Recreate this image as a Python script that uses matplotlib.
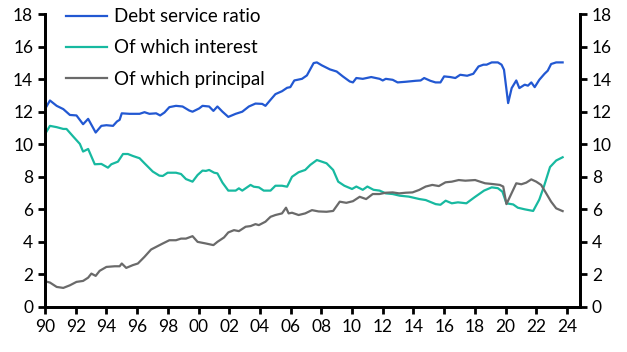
import matplotlib.pyplot as plt

# decimal years and values
dsr_years = [1990.0, 1990.32, 1990.76, 1991.19, 1991.62, 1992.05, 1992.48, 1992.81, 1993.3, 1993.67,
             1994.0, 1994.43, 1994.69, 1994.86, 1995.0, 1995.5, 1996.16, 1996.48, 1996.8, 1997.24,
             1997.5, 1997.78, 1998.1, 1998.53, 1998.96, 1999.4, 1999.61, 2000.04, 2000.26, 2000.69,
             2000.97, 2001.23, 2001.56, 2001.94, 2002.42, 2002.85, 2003.28, 2003.71, 2004.15, 2004.36,
             2004.69, 2005.01, 2005.44, 2005.77, 2005.98, 2006.24, 2006.74, 2007.06, 2007.5, 2007.71,
             2008.03, 2008.56, 2009.0, 2009.4, 2009.85, 2010.06, 2010.28, 2010.7, 2011.25, 2011.8,
             2012.0, 2012.2, 2012.65, 2012.97, 2013.5, 2014.15, 2014.47, 2014.7, 2015.1, 2015.44,
             2015.76, 2016.0, 2016.4, 2016.73, 2017.05, 2017.5, 2017.9, 2018.24, 2018.56, 2018.77,
             2019.1, 2019.5, 2019.74, 2019.9, 2020.17, 2020.4, 2020.7, 2020.9, 2021.25, 2021.46,
             2021.68, 2021.9, 2022.2, 2022.54, 2022.75, 2022.97, 2023.3, 2023.72]
dsr_vals = [12.16, 12.69, 12.36, 12.16, 11.8, 11.77, 11.23, 11.56, 10.72, 11.13,
            11.17, 11.13, 11.4, 11.5, 11.9, 11.87, 11.87, 11.97, 11.87, 11.9,
            11.77, 11.95, 12.28, 12.36, 12.32, 12.07, 12.0, 12.2, 12.36, 12.32,
            12.05, 12.32, 12.0, 11.68, 11.87, 12.0, 12.32, 12.5, 12.48, 12.36,
            12.73, 13.08, 13.26, 13.47, 13.51, 13.92, 14.02, 14.23, 14.99, 15.03,
            14.85, 14.6, 14.47, 14.17, 13.86, 13.8, 14.07, 14.02, 14.13, 14.02,
            13.92, 14.02, 13.96, 13.8, 13.84, 13.9, 13.92, 14.07, 13.9, 13.8,
            13.8, 14.17, 14.13, 14.07, 14.27, 14.21, 14.33, 14.78, 14.89, 14.89,
            15.03, 15.03, 14.89, 14.58, 12.53, 13.45, 13.92, 13.45, 13.66, 13.6,
            13.8, 13.51, 13.96, 14.33, 14.52, 14.93, 15.03, 15.03]

int_years = [1990.0, 1990.32, 1990.76, 1991.19, 1991.4, 1991.84, 1992.27, 1992.48, 1992.81, 1993.24,
             1993.67, 1994.1, 1994.32, 1994.75, 1995.08, 1995.4, 1995.72, 1996.16, 1996.48, 1997.02,
             1997.45, 1997.67, 1997.99, 1998.53, 1998.86, 1999.18, 1999.61, 1999.94, 2000.26, 2000.48,
             2000.69, 2001.02, 2001.23, 2001.56, 2001.94, 2002.42, 2002.63, 2002.85, 2003.39, 2003.6,
             2003.93, 2004.25, 2004.69, 2005.01, 2005.44, 2005.77, 2006.09, 2006.52, 2006.95, 2007.28,
             2007.71, 2008.03, 2008.34, 2008.77, 2009.1, 2009.5, 2010.0, 2010.28, 2010.7, 2011.0,
             2011.4, 2011.8, 2012.2, 2012.65, 2013.1, 2013.7, 2014.4, 2014.8, 2015.45, 2015.76,
             2016.1, 2016.5, 2016.9, 2017.45, 2017.98, 2018.6, 2019.1, 2019.5, 2019.8, 2020.06,
             2020.5, 2020.8, 2021.25, 2021.8, 2022.2, 2022.5, 2022.9, 2023.3, 2023.72]
int_vals = [10.62, 11.13, 11.05, 10.94, 10.94, 10.47, 10.02, 9.55, 9.71, 8.77,
            8.79, 8.56, 8.77, 8.93, 9.4, 9.4, 9.28, 9.14, 8.83, 8.32,
            8.07, 8.05, 8.25, 8.25, 8.17, 7.86, 7.7, 8.11, 8.38, 8.36,
            8.42, 8.25, 8.21, 7.64, 7.15, 7.15, 7.29, 7.15, 7.5, 7.39,
            7.35, 7.15, 7.15, 7.45, 7.45, 7.39, 8.0, 8.28, 8.42, 8.73,
            9.03, 8.93, 8.83, 8.42, 7.7, 7.45, 7.25, 7.4, 7.2, 7.4,
            7.2, 7.15, 6.98, 6.94, 6.84, 6.78, 6.63, 6.57, 6.32, 6.28,
            6.53, 6.37, 6.43, 6.37, 6.74, 7.15, 7.35, 7.3, 7.08, 6.37,
            6.3, 6.1, 6.0, 5.9, 6.6, 7.4, 8.6, 9.0, 9.2]

prin_years = [1990.0, 1990.32, 1990.76, 1991.19, 1991.62, 1992.05, 1992.48, 1992.81, 1993.02, 1993.3,
              1993.56, 1994.0, 1994.54, 1994.86, 1995.0, 1995.29, 1995.72, 1996.05, 1996.48, 1996.91,
              1997.34, 1997.67, 1998.1, 1998.53, 1998.86, 1999.18, 1999.61, 1999.94, 2000.48, 2000.97,
              2001.23, 2001.66, 2001.94, 2002.31, 2002.63, 2003.07, 2003.39, 2003.71, 2003.93, 2004.36,
              2004.69, 2005.01, 2005.44, 2005.7, 2005.87, 2006.09, 2006.52, 2006.95, 2007.39, 2007.82,
              2008.34, 2008.77, 2009.2, 2009.63, 2010.06, 2010.5, 2010.92, 2011.35, 2011.78, 2012.2,
              2012.65, 2013.07, 2013.5, 2013.94, 2014.37, 2014.8, 2015.23, 2015.66, 2016.09, 2016.5,
              2016.95, 2017.38, 2018.02, 2018.34, 2018.67, 2019.1, 2019.63, 2019.85, 2020.06, 2020.39,
              2020.7, 2021.03, 2021.35, 2021.68, 2022.0, 2022.32, 2022.65, 2022.97, 2023.3, 2023.72]
prin_vals = [1.58, 1.5, 1.23, 1.17, 1.33, 1.54, 1.6, 1.8, 2.05, 1.91,
             2.22, 2.46, 2.5, 2.5, 2.67, 2.4, 2.57, 2.67, 3.08, 3.53,
             3.74, 3.9, 4.1, 4.1, 4.2, 4.2, 4.35, 4.0, 3.9, 3.8,
             4.0, 4.27, 4.58, 4.72, 4.66, 4.93, 4.97, 5.09, 5.03, 5.24,
             5.54, 5.65, 5.75, 6.1, 5.75, 5.79, 5.65, 5.75, 5.95, 5.87,
             5.85, 5.9, 6.47, 6.4, 6.5, 6.77, 6.63, 6.94, 6.94, 7.02,
             7.04, 6.98, 7.02, 7.04, 7.19, 7.4, 7.5, 7.43, 7.66, 7.7,
             7.8, 7.76, 7.8, 7.7, 7.6, 7.56, 7.5, 7.4, 6.32, 6.98,
             7.6, 7.54, 7.64, 7.84, 7.7, 7.5, 6.98, 6.47, 6.06, 5.89]

xticks = list(range(1990, 2025, 2))
xlabels = ["%02d" % (y % 100) for y in xticks]
yticks = list(range(0, 19, 2))

plt.rcParams['font.family'] = ['Lato', 'DejaVu Sans']

fig = plt.figure(figsize=(6.27, 3.52), dpi=100)
ax = fig.add_axes([0.0718, 0.128, 0.8532, 0.832])

ax.plot(dsr_years, dsr_vals, color='#2258d2', lw=1.6, label='Debt service ratio')
ax.plot(int_years, int_vals, color='#17b9a0', lw=1.6, label='Of which interest')
ax.plot(prin_years, prin_vals, color='#6a6a6a', lw=1.6, label='Of which principal')

ax.set_xlim(1990, 2024.85)
ax.set_ylim(0, 18)
ax.set_xticks(xticks)
ax.set_xticklabels(xlabels)
ax.set_yticks(yticks)

ax2 = ax.twinx()
ax2.set_ylim(0, 18)
ax2.set_yticks(yticks)

for a in (ax, ax2):
    a.spines['top'].set_visible(False)
    for s in ('left', 'right', 'bottom'):
        a.spines[s].set_linewidth(2)
    a.tick_params(axis='both', width=2, length=5, labelsize=12.5, direction='out')

ax.legend(loc='upper left', bbox_to_anchor=(0.025, 1.045), frameon=False, fontsize=13.5,
          handlelength=2.2, handletextpad=0.35, labelspacing=0.75, borderaxespad=0)

fig.savefig('out.png', dpi=100)
